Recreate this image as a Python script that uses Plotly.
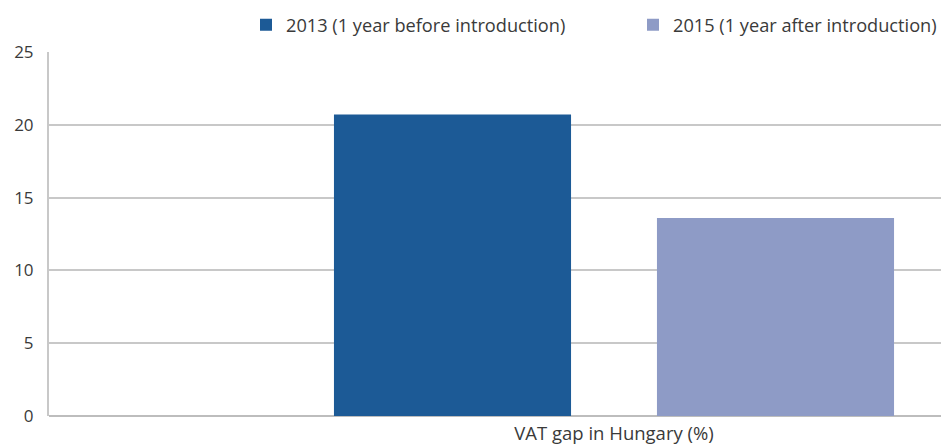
import plotly.graph_objects as go

categories = ["VAT gap in Hungary (%)"]
series_names = ["2013 (1 year before introduction)", "2015 (1 year after introduction)"]
values_2013 = [20.7]
values_2015 = [13.6]
y_ticks = [0, 5, 10, 15, 20, 25]

colors = ["#1c5a96", "#8e9bc6"]
font_family = "Open Sans, Lato, DejaVu Sans, sans-serif"
text_color = "#3a3a3a"

# page body has an 8px default margin; size the figure so it fits the window
W, H = 941, 438
ml, mr, mt, mb = 41, 0, 44, 30
plot_w = W - ml - mr
plot_h = H - mt - mb

fig = go.Figure()
fig.add_trace(go.Bar(x=categories, y=values_2013, name=series_names[0],
                     legend="legend",
                     marker=dict(color=colors[0], line=dict(width=0))))
fig.add_trace(go.Bar(x=categories, y=values_2015, name=series_names[1],
                     legend="legend2",
                     marker=dict(color=colors[1], line=dict(width=0))))

bargap = 0.2
group_px = 646.0
unit_px = group_px / (1 - bargap)
center_px = 606 - ml
x0 = -center_px / unit_px
x1 = x0 + plot_w / unit_px

leg_y = 1 + (mt - 17) / plot_h
leg_common = dict(orientation="h", xanchor="left", yanchor="middle", y=leg_y,
                  font=dict(size=18.2, color=text_color),
                  bgcolor="rgba(0,0,0,0)")

fig.update_layout(
    width=W, height=H,
    margin=dict(l=ml, r=mr, t=mt, b=mb, autoexpand=False),
    paper_bgcolor="white", plot_bgcolor="white",
    barmode="group", bargap=bargap, bargroupgap=0.266,
    font=dict(family=font_family, size=17, color=text_color),
    showlegend=True,
    legend=dict(x=(258 - 20 - ml) / plot_w, **leg_common),
    legend2=dict(x=(645 - 20 - ml) / plot_w, **leg_common),
    xaxis=dict(type="category", range=[x0, x1], showgrid=False,
               showline=False, ticks="", tickfont=dict(size=18.5, color=text_color),
               ticklabelstandoff=4),
    yaxis=dict(range=[0, 25], tickvals=y_ticks, showgrid=True,
               gridcolor="#c8c8c8", gridwidth=1.5, zeroline=True,
               zerolinecolor="#bdbdbd", zerolinewidth=2,
               showline=True, linecolor="#c8c8c8", linewidth=2,
               ticks="", ticklabelstandoff=10,
               tickfont=dict(size=17, color=text_color)),
)

fig.write_html("out.html")
